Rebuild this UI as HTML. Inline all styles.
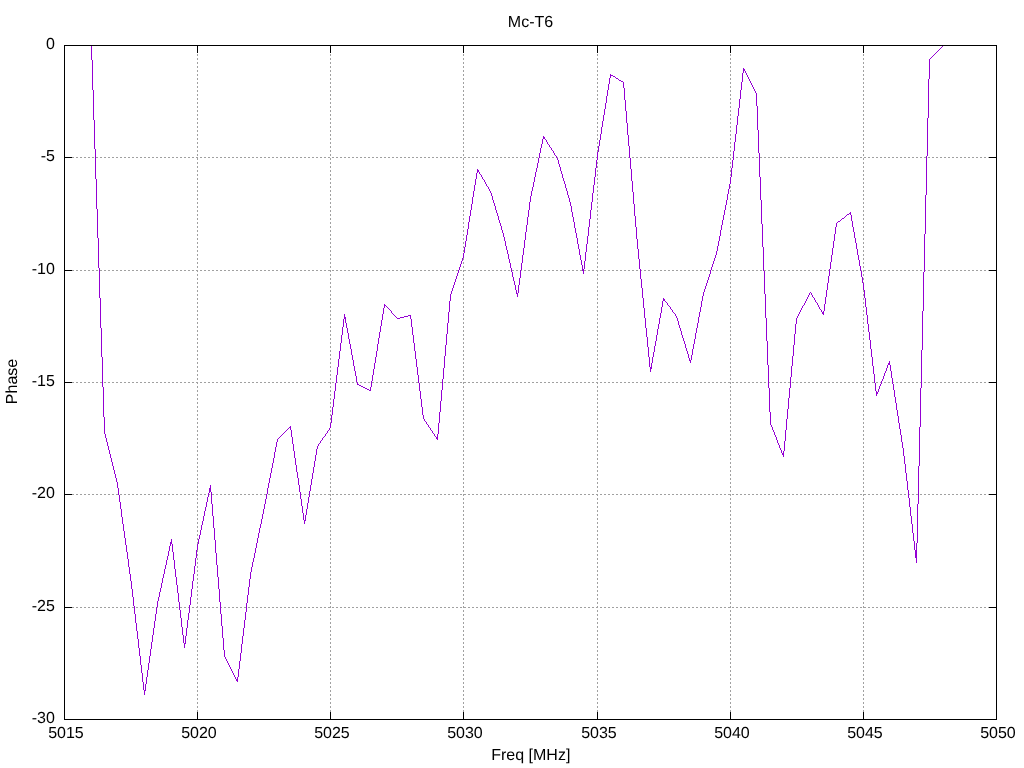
<!DOCTYPE html>
<html><head><meta charset="utf-8"><title>Mc-T6</title>
<style>
html,body{margin:0;padding:0;background:#fff;}
body{width:1024px;height:768px;overflow:hidden;}
svg{will-change:transform;display:block;position:absolute;left:0;top:0;}
text{text-rendering:geometricPrecision;font-family:"Liberation Sans",sans-serif;font-size:16px;fill:#000;}
</style></head><body>
<svg width="1024" height="768" viewBox="0 0 1024 768">
<rect x="0" y="0" width="1024" height="768" fill="#ffffff"/>

<g shape-rendering="crispEdges" stroke="#a0a0a0" stroke-width="1" fill="none" stroke-dasharray="2,2">
<line x1="64" y1="157.5" x2="996" y2="157.5"/>
<line x1="64" y1="270.5" x2="996" y2="270.5"/>
<line x1="64" y1="382.5" x2="996" y2="382.5"/>
<line x1="64" y1="494.5" x2="996" y2="494.5"/>
<line x1="64" y1="607.5" x2="996" y2="607.5"/>
<line x1="197.5" y1="720" x2="197.5" y2="45"/>
<line x1="330.5" y1="720" x2="330.5" y2="45"/>
<line x1="463.5" y1="720" x2="463.5" y2="45"/>
<line x1="597.5" y1="720" x2="597.5" y2="45"/>
<line x1="730.5" y1="720" x2="730.5" y2="45"/>
<line x1="863.5" y1="720" x2="863.5" y2="45"/>
</g>
<g shape-rendering="crispEdges" stroke="#000" stroke-width="1" fill="none">
<line x1="64" y1="45.5" x2="72" y2="45.5"/>
<line x1="989" y1="45.5" x2="997" y2="45.5"/>
<line x1="64" y1="157.5" x2="72" y2="157.5"/>
<line x1="989" y1="157.5" x2="997" y2="157.5"/>
<line x1="64" y1="270.5" x2="72" y2="270.5"/>
<line x1="989" y1="270.5" x2="997" y2="270.5"/>
<line x1="64" y1="382.5" x2="72" y2="382.5"/>
<line x1="989" y1="382.5" x2="997" y2="382.5"/>
<line x1="64" y1="494.5" x2="72" y2="494.5"/>
<line x1="989" y1="494.5" x2="997" y2="494.5"/>
<line x1="64" y1="607.5" x2="72" y2="607.5"/>
<line x1="989" y1="607.5" x2="997" y2="607.5"/>
<line x1="64" y1="719.5" x2="72" y2="719.5"/>
<line x1="989" y1="719.5" x2="997" y2="719.5"/>
<line x1="64.5" y1="720" x2="64.5" y2="712"/>
<line x1="64.5" y1="45" x2="64.5" y2="53"/>
<line x1="197.5" y1="720" x2="197.5" y2="712"/>
<line x1="197.5" y1="45" x2="197.5" y2="53"/>
<line x1="330.5" y1="720" x2="330.5" y2="712"/>
<line x1="330.5" y1="45" x2="330.5" y2="53"/>
<line x1="463.5" y1="720" x2="463.5" y2="712"/>
<line x1="463.5" y1="45" x2="463.5" y2="53"/>
<line x1="597.5" y1="720" x2="597.5" y2="712"/>
<line x1="597.5" y1="45" x2="597.5" y2="53"/>
<line x1="730.5" y1="720" x2="730.5" y2="712"/>
<line x1="730.5" y1="45" x2="730.5" y2="53"/>
<line x1="863.5" y1="720" x2="863.5" y2="712"/>
<line x1="863.5" y1="45" x2="863.5" y2="53"/>
<line x1="996.5" y1="720" x2="996.5" y2="712"/>
<line x1="996.5" y1="45" x2="996.5" y2="53"/>
</g>
<path shape-rendering="crispEdges" fill="#9400d3" stroke="none" d="M91 45h1v15h-1zM92 60h1v30h-1zM93 90h1v30h-1zM94 120h1v29h-1zM95 149h1v30h-1zM96 179h1v30h-1zM97 209h1v29h-1zM98 238h1v30h-1zM99 268h1v30h-1zM100 298h1v30h-1zM101 328h1v29h-1zM102 357h1v30h-1zM103 387h1v30h-1zM104 417h1v17h-1zM105 434h1v4h-1zM106 438h1v4h-1zM107 442h1v4h-1zM108 446h1v4h-1zM109 450h1v4h-1zM110 454h1v4h-1zM111 458h1v4h-1zM112 462h1v4h-1zM113 466h1v4h-1zM114 470h1v4h-1zM115 474h1v4h-1zM116 478h1v4h-1zM117 482h1v6h-1zM118 488h1v7h-1zM119 495h1v7h-1zM120 502h1v7h-1zM121 509h1v8h-1zM122 517h1v7h-1zM123 524h1v7h-1zM124 531h1v7h-1zM125 538h1v7h-1zM126 545h1v7h-1zM127 552h1v7h-1zM128 559h1v8h-1zM129 567h1v7h-1zM130 574h1v7h-1zM131 581h1v8h-1zM132 589h1v8h-1zM133 597h1v9h-1zM134 606h1v8h-1zM135 614h1v9h-1zM136 623h1v8h-1zM137 631h1v8h-1zM138 639h1v9h-1zM139 648h1v8h-1zM140 656h1v9h-1zM141 665h1v8h-1zM142 673h1v9h-1zM143 682h1v8h-1zM144 690h1v5h-1zM145 684h1v7h-1zM146 677h1v7h-1zM147 670h1v7h-1zM148 663h1v7h-1zM149 656h1v7h-1zM150 649h1v7h-1zM151 642h1v7h-1zM152 635h1v7h-1zM153 628h1v7h-1zM154 621h1v7h-1zM155 614h1v7h-1zM156 607h1v7h-1zM157 601h1v6h-1zM158 597h1v4h-1zM159 592h1v5h-1zM160 588h1v4h-1zM161 583h1v5h-1zM162 578h1v5h-1zM163 574h1v4h-1zM164 569h1v5h-1zM165 565h1v4h-1zM166 560h1v5h-1zM167 556h1v4h-1zM168 551h1v5h-1zM169 546h1v5h-1zM170 542h1v4h-1zM171 539h1v5h-1zM172 544h1v8h-1zM173 552h1v8h-1zM174 560h1v9h-1zM175 569h1v8h-1zM176 577h1v8h-1zM177 585h1v8h-1zM178 593h1v9h-1zM179 602h1v8h-1zM180 610h1v8h-1zM181 618h1v9h-1zM182 627h1v8h-1zM183 635h1v8h-1zM184 643h1v5h-1zM185 636h1v8h-1zM186 628h1v8h-1zM187 620h1v8h-1zM188 613h1v7h-1zM189 605h1v8h-1zM190 597h1v8h-1zM191 589h1v8h-1zM192 581h1v8h-1zM193 574h1v7h-1zM194 566h1v8h-1zM195 558h1v8h-1zM196 550h1v8h-1zM197 544h1v6h-1zM198 539h1v5h-1zM199 535h1v4h-1zM200 530h1v5h-1zM201 525h1v5h-1zM202 521h1v4h-1zM203 516h1v5h-1zM204 511h1v5h-1zM205 507h1v4h-1zM206 502h1v5h-1zM207 497h1v5h-1zM208 493h1v4h-1zM209 488h1v5h-1zM210 485h1v7h-1zM211 492h1v12h-1zM212 504h1v12h-1zM213 516h1v12h-1zM214 528h1v12h-1zM215 540h1v13h-1zM216 553h1v12h-1zM217 565h1v12h-1zM218 577h1v12h-1zM219 589h1v13h-1zM220 602h1v12h-1zM221 614h1v12h-1zM222 626h1v12h-1zM223 638h1v12h-1zM224 650h1v7h-1zM225 657h1v2h-1zM226 659h1v2h-1zM227 661h1v2h-1zM228 663h1v2h-1zM229 665h1v2h-1zM230 667h1v2h-1zM231 669h1v2h-1zM232 671h1v2h-1zM233 673h1v2h-1zM234 675h1v2h-1zM235 677h1v2h-1zM236 679h1v2h-1zM237 677h1v5h-1zM238 669h1v8h-1zM239 661h1v8h-1zM240 653h1v8h-1zM241 644h1v9h-1zM242 636h1v8h-1zM243 628h1v8h-1zM244 620h1v8h-1zM245 612h1v8h-1zM246 603h1v9h-1zM247 595h1v8h-1zM248 587h1v8h-1zM249 579h1v8h-1zM250 572h1v7h-1zM251 567h1v5h-1zM252 562h1v5h-1zM253 558h1v4h-1zM254 553h1v5h-1zM255 548h1v5h-1zM256 543h1v5h-1zM257 538h1v5h-1zM258 533h1v5h-1zM259 528h1v5h-1zM260 524h1v4h-1zM261 519h1v5h-1zM262 514h1v5h-1zM263 509h1v5h-1zM264 504h1v5h-1zM265 499h1v5h-1zM266 494h1v5h-1zM267 488h1v6h-1zM268 483h1v5h-1zM269 478h1v5h-1zM270 473h1v5h-1zM271 468h1v5h-1zM272 463h1v5h-1zM273 458h1v5h-1zM274 452h1v6h-1zM275 447h1v5h-1zM276 442h1v5h-1zM277 439h1v3h-1zM278 438h1v1h-1zM279 437h1v1h-1zM280 436h1v1h-1zM281 435h1v1h-1zM282 434h1v1h-1zM283 433h1v1h-1zM284 432h1v1h-1zM285 431h1v1h-1zM286 430h1v1h-1zM287 429h1v1h-1zM288 428h1v1h-1zM289 427h1v1h-1zM290 426h1v4h-1zM291 430h1v7h-1zM292 437h1v7h-1zM293 444h1v7h-1zM294 451h1v7h-1zM295 458h1v7h-1zM296 465h1v7h-1zM297 472h1v6h-1zM298 478h1v7h-1zM299 485h1v7h-1zM300 492h1v7h-1zM301 499h1v7h-1zM302 506h1v7h-1zM303 513h1v7h-1zM304 520h1v4h-1zM305 515h1v6h-1zM306 509h1v6h-1zM307 503h1v6h-1zM308 497h1v6h-1zM309 491h1v6h-1zM310 485h1v6h-1zM311 479h1v6h-1zM312 473h1v6h-1zM313 467h1v6h-1zM314 461h1v6h-1zM315 455h1v6h-1zM316 449h1v6h-1zM317 446h1v3h-1zM318 444h1v2h-1zM319 443h1v1h-1zM320 441h1v2h-1zM321 440h1v1h-1zM322 438h1v2h-1zM323 437h1v1h-1zM324 436h1v1h-1zM325 434h1v2h-1zM326 433h1v1h-1zM327 431h1v2h-1zM328 430h1v1h-1zM329 428h1v2h-1zM330 423h1v5h-1zM331 415h1v8h-1zM332 407h1v8h-1zM333 399h1v8h-1zM334 391h1v8h-1zM335 383h1v8h-1zM336 375h1v8h-1zM337 367h1v8h-1zM338 359h1v8h-1zM339 351h1v8h-1zM340 343h1v8h-1zM341 335h1v8h-1zM342 327h1v8h-1zM343 319h1v8h-1zM344 314h1v5h-1zM345 317h1v6h-1zM346 323h1v5h-1zM347 328h1v5h-1zM348 333h1v6h-1zM349 339h1v5h-1zM350 344h1v5h-1zM351 349h1v6h-1zM352 355h1v5h-1zM353 360h1v6h-1zM354 366h1v5h-1zM355 371h1v5h-1zM356 376h1v6h-1zM357 382h1v3h-1zM358 384h1v1h-1zM359 385h1v1h-1zM360 385h1v1h-1zM361 386h1v1h-1zM362 386h1v1h-1zM363 387h1v1h-1zM364 387h1v1h-1zM365 388h1v1h-1zM366 388h1v1h-1zM367 389h1v1h-1zM368 389h1v1h-1zM369 390h1v1h-1zM370 387h1v4h-1zM371 381h1v6h-1zM372 375h1v6h-1zM373 369h1v6h-1zM374 363h1v6h-1zM375 357h1v6h-1zM376 351h1v6h-1zM377 344h1v7h-1zM378 338h1v6h-1zM379 332h1v6h-1zM380 326h1v6h-1zM381 320h1v6h-1zM382 314h1v6h-1zM383 308h1v6h-1zM384 304h1v4h-1zM385 305h1v1h-1zM386 306h1v1h-1zM387 307h1v1h-1zM388 308h1v1h-1zM389 309h1v1h-1zM390 310h1v1h-1zM391 311h1v2h-1zM392 313h1v1h-1zM393 314h1v1h-1zM394 315h1v1h-1zM395 316h1v1h-1zM396 317h1v1h-1zM397 318h1v1h-1zM398 318h1v1h-1zM399 318h1v1h-1zM400 317h1v1h-1zM401 317h1v1h-1zM402 317h1v1h-1zM403 317h1v1h-1zM404 316h1v1h-1zM405 316h1v1h-1zM406 316h1v1h-1zM407 316h1v1h-1zM408 315h1v1h-1zM409 315h1v1h-1zM410 315h1v4h-1zM411 319h1v8h-1zM412 327h1v8h-1zM413 335h1v8h-1zM414 343h1v8h-1zM415 351h1v8h-1zM416 359h1v8h-1zM417 367h1v8h-1zM418 375h1v8h-1zM419 383h1v8h-1zM420 391h1v8h-1zM421 399h1v8h-1zM422 407h1v8h-1zM423 415h1v4h-1zM424 419h1v2h-1zM425 421h1v1h-1zM426 422h1v2h-1zM427 424h1v1h-1zM428 425h1v2h-1zM429 427h1v1h-1zM430 428h1v2h-1zM431 430h1v1h-1zM432 431h1v2h-1zM433 433h1v1h-1zM434 434h1v2h-1zM435 436h1v1h-1zM436 437h1v2h-1zM437 434h1v6h-1zM438 423h1v11h-1zM439 412h1v11h-1zM440 401h1v11h-1zM441 390h1v11h-1zM442 379h1v11h-1zM443 368h1v11h-1zM444 356h1v12h-1zM445 345h1v11h-1zM446 334h1v11h-1zM447 323h1v11h-1zM448 312h1v11h-1zM449 301h1v11h-1zM450 294h1v7h-1zM451 291h1v3h-1zM452 288h1v3h-1zM453 285h1v3h-1zM454 282h1v3h-1zM455 279h1v3h-1zM456 276h1v3h-1zM457 273h1v3h-1zM458 270h1v3h-1zM459 267h1v3h-1zM460 264h1v3h-1zM461 261h1v3h-1zM462 258h1v3h-1zM463 253h1v5h-1zM464 247h1v6h-1zM465 241h1v6h-1zM466 235h1v6h-1zM467 229h1v6h-1zM468 222h1v7h-1zM469 216h1v6h-1zM470 210h1v6h-1zM471 204h1v6h-1zM472 197h1v7h-1zM473 191h1v6h-1zM474 185h1v6h-1zM475 179h1v6h-1zM476 173h1v6h-1zM477 169h1v4h-1zM478 170h1v2h-1zM479 172h1v2h-1zM480 174h1v1h-1zM481 175h1v2h-1zM482 177h1v2h-1zM483 179h1v1h-1zM484 180h1v2h-1zM485 182h1v2h-1zM486 184h1v2h-1zM487 186h1v1h-1zM488 187h1v2h-1zM489 189h1v2h-1zM490 191h1v2h-1zM491 193h1v3h-1zM492 196h1v4h-1zM493 200h1v3h-1zM494 203h1v3h-1zM495 206h1v4h-1zM496 210h1v3h-1zM497 213h1v3h-1zM498 216h1v4h-1zM499 220h1v3h-1zM500 223h1v3h-1zM501 226h1v4h-1zM502 230h1v3h-1zM503 233h1v4h-1zM504 237h1v4h-1zM505 241h1v5h-1zM506 246h1v4h-1zM507 250h1v4h-1zM508 254h1v5h-1zM509 259h1v4h-1zM510 263h1v5h-1zM511 268h1v4h-1zM512 272h1v5h-1zM513 277h1v4h-1zM514 281h1v4h-1zM515 285h1v5h-1zM516 290h1v4h-1zM517 293h1v4h-1zM518 285h1v8h-1zM519 278h1v7h-1zM520 270h1v8h-1zM521 263h1v7h-1zM522 255h1v8h-1zM523 248h1v7h-1zM524 240h1v8h-1zM525 232h1v8h-1zM526 225h1v7h-1zM527 217h1v8h-1zM528 210h1v7h-1zM529 202h1v8h-1zM530 196h1v6h-1zM531 191h1v5h-1zM532 187h1v4h-1zM533 182h1v5h-1zM534 177h1v5h-1zM535 172h1v5h-1zM536 168h1v4h-1zM537 163h1v5h-1zM538 158h1v5h-1zM539 153h1v5h-1zM540 148h1v5h-1zM541 144h1v4h-1zM542 139h1v5h-1zM543 136h1v3h-1zM544 137h1v2h-1zM545 139h1v1h-1zM546 140h1v2h-1zM547 142h1v2h-1zM548 144h1v1h-1zM549 145h1v2h-1zM550 147h1v1h-1zM551 148h1v2h-1zM552 150h1v1h-1zM553 151h1v2h-1zM554 153h1v2h-1zM555 155h1v1h-1zM556 156h1v2h-1zM557 158h1v2h-1zM558 160h1v4h-1zM559 164h1v3h-1zM560 167h1v4h-1zM561 171h1v3h-1zM562 174h1v4h-1zM563 178h1v3h-1zM564 181h1v3h-1zM565 184h1v4h-1zM566 188h1v3h-1zM567 191h1v4h-1zM568 195h1v3h-1zM569 198h1v4h-1zM570 202h1v4h-1zM571 206h1v6h-1zM572 212h1v5h-1zM573 217h1v5h-1zM574 222h1v6h-1zM575 228h1v5h-1zM576 233h1v5h-1zM577 238h1v6h-1zM578 244h1v5h-1zM579 249h1v6h-1zM580 255h1v5h-1zM581 260h1v5h-1zM582 265h1v6h-1zM583 269h1v5h-1zM584 261h1v8h-1zM585 252h1v9h-1zM586 244h1v8h-1zM587 236h1v8h-1zM588 227h1v9h-1zM589 219h1v8h-1zM590 210h1v9h-1zM591 202h1v8h-1zM592 193h1v9h-1zM593 185h1v8h-1zM594 177h1v8h-1zM595 168h1v9h-1zM596 160h1v8h-1zM597 152h1v8h-1zM598 146h1v6h-1zM599 140h1v6h-1zM600 134h1v6h-1zM601 127h1v7h-1zM602 121h1v6h-1zM603 115h1v6h-1zM604 109h1v6h-1zM605 103h1v6h-1zM606 96h1v7h-1zM607 90h1v6h-1zM608 84h1v6h-1zM609 78h1v6h-1zM610 74h1v4h-1zM611 75h1v1h-1zM612 75h1v1h-1zM613 76h1v1h-1zM614 76h1v1h-1zM615 77h1v1h-1zM616 78h1v1h-1zM617 78h1v1h-1zM618 79h1v1h-1zM619 80h1v1h-1zM620 80h1v1h-1zM621 81h1v1h-1zM622 81h1v1h-1zM623 82h1v6h-1zM624 88h1v12h-1zM625 100h1v11h-1zM626 111h1v12h-1zM627 123h1v12h-1zM628 135h1v11h-1zM629 146h1v12h-1zM630 158h1v11h-1zM631 169h1v12h-1zM632 181h1v11h-1zM633 192h1v12h-1zM634 204h1v12h-1zM635 216h1v11h-1zM636 227h1v12h-1zM637 239h1v10h-1zM638 249h1v10h-1zM639 259h1v10h-1zM640 269h1v10h-1zM641 279h1v9h-1zM642 288h1v10h-1zM643 298h1v10h-1zM644 308h1v10h-1zM645 318h1v10h-1zM646 328h1v9h-1zM647 337h1v10h-1zM648 347h1v10h-1zM649 357h1v10h-1zM650 367h1v5h-1zM651 363h1v6h-1zM652 357h1v6h-1zM653 352h1v5h-1zM654 346h1v6h-1zM655 341h1v5h-1zM656 335h1v6h-1zM657 329h1v6h-1zM658 324h1v5h-1zM659 318h1v6h-1zM660 313h1v5h-1zM661 307h1v6h-1zM662 301h1v6h-1zM663 298h1v3h-1zM664 299h1v2h-1zM665 301h1v1h-1zM666 302h1v1h-1zM667 303h1v2h-1zM668 305h1v1h-1zM669 306h1v1h-1zM670 307h1v2h-1zM671 309h1v1h-1zM672 310h1v2h-1zM673 312h1v1h-1zM674 313h1v1h-1zM675 314h1v2h-1zM676 316h1v2h-1zM677 318h1v3h-1zM678 321h1v4h-1zM679 325h1v3h-1zM680 328h1v3h-1zM681 331h1v4h-1zM682 335h1v3h-1zM683 338h1v3h-1zM684 341h1v3h-1zM685 344h1v4h-1zM686 348h1v3h-1zM687 351h1v3h-1zM688 354h1v4h-1zM689 358h1v3h-1zM690 360h1v3h-1zM691 355h1v5h-1zM692 349h1v6h-1zM693 344h1v5h-1zM694 339h1v5h-1zM695 333h1v6h-1zM696 328h1v5h-1zM697 323h1v5h-1zM698 317h1v6h-1zM699 312h1v5h-1zM700 307h1v5h-1zM701 301h1v6h-1zM702 296h1v5h-1zM703 292h1v4h-1zM704 289h1v3h-1zM705 286h1v3h-1zM706 283h1v3h-1zM707 280h1v3h-1zM708 277h1v3h-1zM709 274h1v3h-1zM710 270h1v4h-1zM711 267h1v3h-1zM712 264h1v3h-1zM713 261h1v3h-1zM714 258h1v3h-1zM715 255h1v3h-1zM716 251h1v4h-1zM717 246h1v5h-1zM718 241h1v5h-1zM719 236h1v5h-1zM720 230h1v6h-1zM721 225h1v5h-1zM722 220h1v5h-1zM723 215h1v5h-1zM724 210h1v5h-1zM725 205h1v5h-1zM726 200h1v5h-1zM727 194h1v6h-1zM728 189h1v5h-1zM729 184h1v5h-1zM730 177h1v7h-1zM731 168h1v9h-1zM732 160h1v8h-1zM733 151h1v9h-1zM734 142h1v9h-1zM735 134h1v8h-1zM736 125h1v9h-1zM737 116h1v9h-1zM738 108h1v8h-1zM739 99h1v9h-1zM740 90h1v9h-1zM741 82h1v8h-1zM742 73h1v9h-1zM743 68h1v5h-1zM744 69h1v2h-1zM745 71h1v2h-1zM746 73h1v2h-1zM747 75h1v2h-1zM748 77h1v2h-1zM749 79h1v2h-1zM750 81h1v2h-1zM751 83h1v2h-1zM752 85h1v2h-1zM753 87h1v2h-1zM754 89h1v2h-1zM755 91h1v2h-1zM756 93h1v13h-1zM757 106h1v24h-1zM758 130h1v23h-1zM759 153h1v24h-1zM760 177h1v23h-1zM761 200h1v24h-1zM762 224h1v23h-1zM763 247h1v24h-1zM764 271h1v23h-1zM765 294h1v24h-1zM766 318h1v23h-1zM767 341h1v24h-1zM768 365h1v23h-1zM769 388h1v24h-1zM770 412h1v13h-1zM771 425h1v2h-1zM772 427h1v3h-1zM773 430h1v2h-1zM774 432h1v3h-1zM775 435h1v2h-1zM776 437h1v3h-1zM777 440h1v3h-1zM778 443h1v2h-1zM779 445h1v3h-1zM780 448h1v2h-1zM781 450h1v3h-1zM782 453h1v2h-1zM783 451h1v6h-1zM784 441h1v10h-1zM785 430h1v11h-1zM786 419h1v11h-1zM787 409h1v10h-1zM788 398h1v11h-1zM789 388h1v10h-1zM790 377h1v11h-1zM791 366h1v11h-1zM792 356h1v10h-1zM793 345h1v11h-1zM794 334h1v11h-1zM795 324h1v10h-1zM796 318h1v6h-1zM797 316h1v2h-1zM798 314h1v2h-1zM799 312h1v2h-1zM800 310h1v2h-1zM801 308h1v2h-1zM802 306h1v2h-1zM803 305h1v1h-1zM804 303h1v2h-1zM805 301h1v2h-1zM806 299h1v2h-1zM807 297h1v2h-1zM808 295h1v2h-1zM809 293h1v2h-1zM810 292h1v1h-1zM811 293h1v2h-1zM812 295h1v2h-1zM813 297h1v1h-1zM814 298h1v2h-1zM815 300h1v2h-1zM816 302h1v1h-1zM817 303h1v2h-1zM818 305h1v2h-1zM819 307h1v2h-1zM820 309h1v1h-1zM821 310h1v2h-1zM822 312h1v2h-1zM823 311h1v4h-1zM824 304h1v7h-1zM825 297h1v7h-1zM826 290h1v7h-1zM827 283h1v7h-1zM828 276h1v7h-1zM829 269h1v7h-1zM830 262h1v7h-1zM831 255h1v7h-1zM832 248h1v7h-1zM833 241h1v7h-1zM834 234h1v7h-1zM835 227h1v7h-1zM836 223h1v4h-1zM837 222h1v1h-1zM838 221h1v1h-1zM839 221h1v1h-1zM840 220h1v1h-1zM841 219h1v1h-1zM842 218h1v1h-1zM843 218h1v1h-1zM844 217h1v1h-1zM845 216h1v1h-1zM846 215h1v1h-1zM847 214h1v1h-1zM848 214h1v1h-1zM849 213h1v1h-1zM850 212h1v3h-1zM851 215h1v6h-1zM852 221h1v6h-1zM853 227h1v5h-1zM854 232h1v6h-1zM855 238h1v5h-1zM856 243h1v6h-1zM857 249h1v6h-1zM858 255h1v5h-1zM859 260h1v6h-1zM860 266h1v5h-1zM861 271h1v6h-1zM862 277h1v6h-1zM863 283h1v7h-1zM864 290h1v8h-1zM865 298h1v9h-1zM866 307h1v8h-1zM867 315h1v9h-1zM868 324h1v8h-1zM869 332h1v8h-1zM870 340h1v9h-1zM871 349h1v8h-1zM872 357h1v9h-1zM873 366h1v8h-1zM874 374h1v9h-1zM875 383h1v8h-1zM876 391h1v5h-1zM877 392h1v2h-1zM878 389h1v3h-1zM879 386h1v3h-1zM880 384h1v2h-1zM881 381h1v3h-1zM882 379h1v2h-1zM883 376h1v3h-1zM884 373h1v3h-1zM885 371h1v2h-1zM886 368h1v3h-1zM887 365h1v3h-1zM888 363h1v2h-1zM889 361h1v4h-1zM890 365h1v6h-1zM891 371h1v7h-1zM892 378h1v6h-1zM893 384h1v6h-1zM894 390h1v7h-1zM895 397h1v6h-1zM896 403h1v7h-1zM897 410h1v6h-1zM898 416h1v7h-1zM899 423h1v6h-1zM900 429h1v6h-1zM901 435h1v7h-1zM902 442h1v6h-1zM903 448h1v8h-1zM904 456h1v8h-1zM905 464h1v9h-1zM906 473h1v8h-1zM907 481h1v9h-1zM908 490h1v8h-1zM909 498h1v9h-1zM910 507h1v9h-1zM911 516h1v8h-1zM912 524h1v9h-1zM913 533h1v8h-1zM914 541h1v9h-1zM915 550h1v8h-1zM916 543h1v20h-1zM917 504h1v39h-1zM918 466h1v38h-1zM919 427h1v39h-1zM920 388h1v39h-1zM921 350h1v38h-1zM922 311h1v39h-1zM923 272h1v39h-1zM924 234h1v38h-1zM925 195h1v39h-1zM926 156h1v39h-1zM927 118h1v38h-1zM928 79h1v39h-1zM929 59h1v20h-1zM930 58h1v1h-1zM931 57h1v1h-1zM932 56h1v1h-1zM933 55h1v1h-1zM934 54h1v1h-1zM935 53h1v1h-1zM936 52h1v1h-1zM937 51h1v1h-1zM938 50h1v1h-1zM939 49h1v1h-1zM940 48h1v1h-1zM941 47h1v1h-1zM942 46h1v1h-1zM943 45h1v1h-1z"/>
<rect shape-rendering="crispEdges" x="64.5" y="45.5" width="932" height="674" fill="none" stroke="#000" stroke-width="1"/>
<text x="54.9" y="49" text-anchor="end">0</text>
<text x="54.9" y="161" text-anchor="end">-5</text>
<text x="54.9" y="274" text-anchor="end">-10</text>
<text x="54.9" y="386" text-anchor="end">-15</text>
<text x="54.9" y="498" text-anchor="end">-20</text>
<text x="54.9" y="611" text-anchor="end">-25</text>
<text x="54.9" y="723" text-anchor="end">-30</text>
<text x="65.95" y="738" text-anchor="middle">5015</text>
<text x="198.95" y="738" text-anchor="middle">5020</text>
<text x="331.95" y="738" text-anchor="middle">5025</text>
<text x="464.95" y="738" text-anchor="middle">5030</text>
<text x="598.95" y="738" text-anchor="middle">5035</text>
<text x="731.95" y="738" text-anchor="middle">5040</text>
<text x="864.95" y="738" text-anchor="middle">5045</text>
<text x="997.95" y="738" text-anchor="middle">5050</text>
<text x="530.5" y="27" text-anchor="middle">Mc-T6</text>
<text x="530.8" y="760" text-anchor="middle">Freq [MHz]</text>
<text transform="translate(17,381.5) rotate(-90)" text-anchor="middle">Phase</text>
</svg>
</body></html>
